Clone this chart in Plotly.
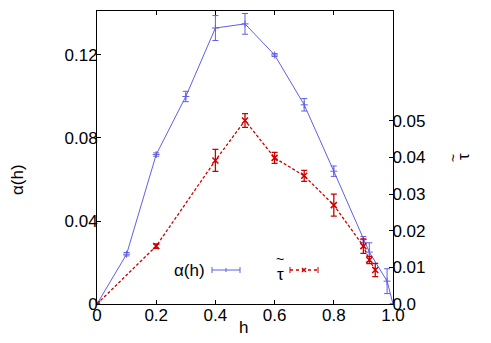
import plotly.graph_objects as go

# data
h_alpha = [0, 0.1, 0.2, 0.3, 0.4, 0.5, 0.6, 0.7, 0.8, 0.9, 0.92, 0.98, 1.0]
alpha = [0, 0.024, 0.072, 0.100, 0.133, 0.135, 0.120, 0.096, 0.064, 0.031, 0.025, 0.011, 0]
alpha_err = [0, 0.0008, 0.0008, 0.0025, 0.006, 0.005, 0.0007, 0.003, 0.0025, 0.0015, 0.0045, 0.006, 0]

h_tau = [0, 0.2, 0.4, 0.5, 0.6, 0.7, 0.8, 0.9, 0.92, 0.94]
tau = [0, 0.0158, 0.0392, 0.0501, 0.0399, 0.035, 0.027, 0.0158, 0.012, 0.0093]
tau_err = [0, 0.0006, 0.003, 0.0019, 0.0015, 0.0015, 0.003, 0.002, 0.001, 0.0018]

x_ticks = [0, 0.2, 0.4, 0.6, 0.8, 1.0]
x_ticklabels = ["0", "0.2", "0.4", "0.6", "0.8", "1.0"]
y_ticks = [0, 0.04, 0.08, 0.12]
y_ticklabels = ["0", "0.04", "0.08", "0.12"]
y2_ticks = [0, 0.01, 0.02, 0.03, 0.04, 0.05]
y2_ticklabels = ["0.0", "0.01", "0.02", "0.03", "0.04", "0.05"]

BLUE = "rgb(95,95,230)"
RED = "rgb(205,0,0)"
FONT = "Liberation Sans"
FS = 17

fig = go.Figure()
fig.add_trace(go.Scatter(
    x=h_alpha, y=alpha, mode="lines+markers", name="α(h)",
    line=dict(color=BLUE, width=1),
    marker=dict(symbol="cross-thin", size=5, line=dict(color=BLUE, width=1)),
    error_y=dict(type="data", array=alpha_err, color=BLUE, thickness=1, width=3),
    showlegend=False,
))
fig.add_trace(go.Scatter(
    x=h_tau, y=tau, mode="lines+markers", name="τ̃", yaxis="y2",
    line=dict(color=RED, width=1.3, dash="3px,2px"),
    marker=dict(symbol="x-thin", size=6, line=dict(color=RED, width=1.5)),
    error_y=dict(type="data", array=tau_err, color=RED, thickness=1.3, width=3),
    showlegend=False,
))

OFF = 8  # page body margin
W, H = 491 - OFF, 343 - OFF
L, R, T, B = 97, 393, 11, 304  # plot area in page pixels

def px(x):
    return (x - L) / (R - L)

def py(y):
    return (B - y) / (B - T)

def txt(s, x, y, angle=0, size=FS, xanchor="center"):
    return dict(text=s, x=px(x), y=py(y), xref="paper", yref="paper",
                textangle=angle, showarrow=False, xanchor=xanchor, yanchor="middle",
                font=dict(family=FONT, size=size, color="black"))

annotations = [
    txt("α(h)", 18, 180, angle=-90),
    txt("τ", 463, 157, angle=-90),
    txt("~", 453, 158, angle=-90, size=14),
    txt("h", 243, 327),
    txt("α(h)", 207, 270, xanchor="right"),
    txt("τ", 280, 274),
    txt("~", 280, 259, size=14),
]

shapes = []
# legend keys
for (x0, x1, col, dash, w) in [(212, 240, BLUE, "solid", 1), (290, 318, RED, "dot", 1.3)]:
    shapes.append(dict(type="line", xref="paper", yref="paper", x0=px(x0), x1=px(x1),
                       y0=py(270), y1=py(270), line=dict(color=col, width=w, dash=dash)))
    for xe in (x0, x1):
        shapes.append(dict(type="line", xref="paper", yref="paper", x0=px(xe), x1=px(xe),
                           y0=py(267), y1=py(273), line=dict(color=col, width=1)))
# legend markers
shapes.append(dict(type="line", xref="paper", yref="paper", x0=px(226), x1=px(226),
                   y0=py(268), y1=py(272), line=dict(color=BLUE, width=1)))
shapes.append(dict(type="line", xref="paper", yref="paper", x0=px(302), x1=px(306),
                   y0=py(268), y1=py(272), line=dict(color=RED, width=1.5)))
shapes.append(dict(type="line", xref="paper", yref="paper", x0=px(302), x1=px(306),
                   y0=py(272), y1=py(268), line=dict(color=RED, width=1.5)))

axis_common = dict(showgrid=False, zeroline=False, showline=True, linecolor="black",
                   linewidth=1, ticks="inside", ticklen=4, tickcolor="black",
                   tickfont=dict(family=FONT, size=FS, color="black"))

fig.update_layout(
    width=W, height=H,
    margin=dict(l=L - OFF, r=(W + OFF) - R, t=T - OFF, b=(H + OFF) - B, autoexpand=False),
    paper_bgcolor="white", plot_bgcolor="white",
    xaxis=dict(range=[0, 1], tickvals=x_ticks, ticktext=x_ticklabels, mirror="ticks",
               ticklabelstandoff=-4, **axis_common),
    yaxis=dict(range=[0, 0.1412], tickvals=y_ticks, ticktext=y_ticklabels,
               ticklabelstandoff=-5, **axis_common),
    yaxis2=dict(range=[0, 0.08], tickvals=y2_ticks, ticktext=y2_ticklabels,
                overlaying="y", side="right", ticklabelstandoff=-5, **axis_common),
    annotations=annotations, shapes=shapes,
    font=dict(family=FONT, size=FS, color="black"),
)

fig.write_html("out.html")
